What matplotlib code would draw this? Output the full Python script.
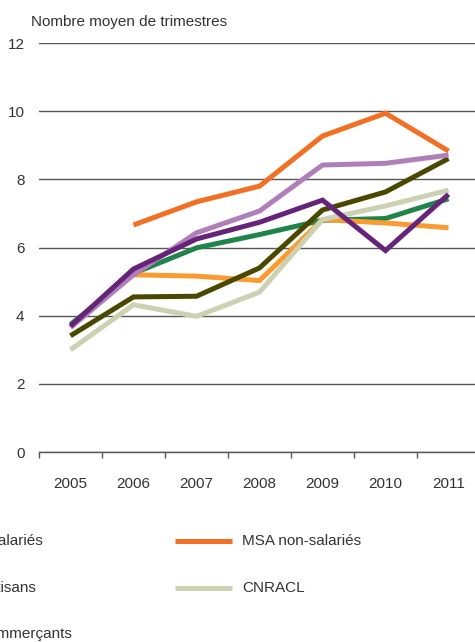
import matplotlib
matplotlib.use("Agg")
import matplotlib.pyplot as plt
from matplotlib.lines import Line2D
import numpy as np

plt.rcParams['font.family'] = ['Liberation Sans Narrow', 'Liberation Sans', 'DejaVu Sans']

# données
annees = ['2005', '2006', '2007', '2008', '2009', '2010', '2011']

cnav = [3.74, 5.24, 5.99, 6.38, 6.80, 6.85, 7.43]
msa_sal = [None, 5.20, 5.16, 5.03, 6.82, 6.72, 6.58]
cnracl = [3.00, 4.32, 3.98, 4.69, 6.82, 7.22, 7.68]
sre = [3.41, 4.55, 4.57, 5.40, 7.10, 7.63, 8.61]
rsi_art = [3.65, 5.20, 6.43, 7.07, 8.42, 8.47, 8.71]
rsi_com = [3.69, 5.37, 6.25, 6.74, 7.39, 5.91, 7.56]
msa_nonsal = [None, 6.66, 7.34, 7.80, 9.27, 9.94, 8.83]

series = [
    ('CNAV', cnav, '#1f8449'),
    ('MSA salariés', msa_sal, '#f99b30'),
    ('CNRACL', cnracl, '#cbd1b1'),
    ('SRE', sre, '#4a4800'),
    ('RSI artisans', rsi_art, '#b07fba'),
    ('RSI commerçants', rsi_com, '#66237a'),
    ('MSA non-salariés', msa_nonsal, '#f26f23'),
]

FS = 11
W, H = 475, 642
fig = plt.figure(figsize=(W / 100, H / 100), dpi=100)
ax = fig.add_axes([39 / W, (H - 452) / H, 441 / W, 409 / H])

x = np.arange(len(annees)) + 0.5
for nom, vals, col in series:
    y = np.array([np.nan if v is None else v for v in vals])
    ax.plot(x, y, color=col, lw=3.6, solid_capstyle='butt',
            solid_joinstyle='miter')

ax.set_xlim(0, 7)
ax.set_ylim(0, 12)
ax.set_yticks(range(0, 13, 2))
ax.yaxis.grid(True, color='#555555', lw=1.0)
ax.set_axisbelow(True)
for s in ['top', 'right', 'left']:
    ax.spines[s].set_visible(False)
ax.spines['bottom'].set_color('#555555')
ax.spines['bottom'].set_linewidth(1.0)
ax.tick_params(axis='y', length=0, pad=10.5, labelsize=FS, labelcolor='#333333')

ax.set_xticks(range(8))
ax.set_xticklabels([])
ax.set_xticks(x, minor=True)
ax.set_xticklabels(annees, minor=True)
ax.tick_params(axis='x', which='major', length=4, width=1.0, color='#555555', direction='out')
ax.tick_params(axis='x', which='minor', length=0, pad=18, labelsize=FS, labelcolor='#333333')

fig.text(31 / W, 1 - 22 / H, 'Nombre moyen de trimestres', fontsize=FS,
         color='#333333', va='center', ha='left')

# légende (colonne de gauche coupée par le bord)
couleurs = {nom: col for nom, _, col in series}
leg_gauche = [('MSA salariés', 43, 541), ('RSI artisans', 36, 588), ('RSI commerçants', 72, 634)]
for nom, xr, yp in leg_gauche:
    fig.text(xr / W, 1 - yp / H, nom, fontsize=FS, color='#333333',
             ha='right', va='center')
leg_droite = [('MSA non-salariés', 541), ('CNRACL', 588)]
for nom, yp in leg_droite:
    fig.add_artist(Line2D([175 / W, 232 / W], [1 - yp / H, 1 - yp / H],
                          color=couleurs[nom], lw=3.6, solid_capstyle='butt'))
    fig.text(242 / W, 1 - yp / H, nom, fontsize=FS, color='#333333',
             ha='left', va='center')

fig.savefig('out.png', dpi=100)
